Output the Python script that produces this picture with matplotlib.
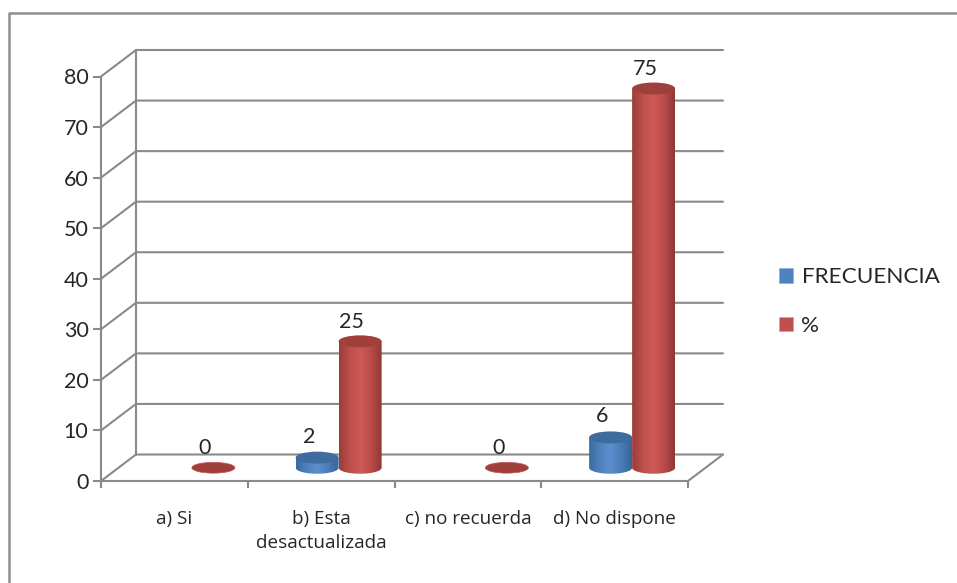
import numpy as np
import matplotlib
matplotlib.use("Agg")
import matplotlib.pyplot as plt
from matplotlib.lines import Line2D
from matplotlib.patches import Ellipse, PathPatch, Patch
from matplotlib.path import Path
from matplotlib.colors import LinearSegmentedColormap

categories = ["a) Si", "b) Esta\ndesactualizada", "c) no recuerda", "d) No dispone"]
frecuencia = [None, 2, None, 6]
porcentaje = [0, 25, 0, 75]
y_ticks = [0, 10, 20, 30, 40, 50, 60, 70, 80]
legend_labels = ["FRECUENCIA", "%"]

W, H = 957, 583
plt.rcParams["font.family"] = ["Lato", "DejaVu Sans"]
TEXT = "#262626"
GRID = "#8a8a8a"

fig = plt.figure(figsize=(W / 100, H / 100), dpi=100)
L, R, T, B = 101, 688, 76.5, 481
ax = fig.add_axes([L / W, 1 - B / H, (R - L) / W, (B - T) / H])
ax.set_xlim(0, 4)
ax.set_ylim(0, 80)
ax.patch.set_visible(False)

px_x = (R - L) / 4
px_y = (B - T) / 80
DX = 35 / px_x
DY = 26.5 / px_y
BW = 43 / px_x
EH = 12 / px_y

# outer frame of the chart area
fig.add_artist(Line2D([9 / W, 9 / W, 1], [0, 1 - 13 / H, 1 - 13 / H], color="#8f8f8f", lw=1.8))

# walls and floor
line = dict(color=GRID, lw=1.5, clip_on=False, zorder=1, solid_capstyle="round")
for v in y_ticks:
    ax.plot([0, DX, 4 + DX], [v, v + DY, v + DY], **line)
ax.plot([DX, DX], [DY, 80 + DY], **line)
ax.plot([4, 4 + DX], [0, DY], **line)

for s in ("top", "right"):
    ax.spines[s].set_visible(False)
for s in ("left", "bottom"):
    ax.spines[s].set_color(GRID)
    ax.spines[s].set_linewidth(1.5)

ax.set_yticks(y_ticks)
ax.set_xticks(range(5))
ax.set_xticklabels([])
ax.tick_params(axis="y", length=6, width=1.5, color=GRID, labelsize=15.5, labelcolor=TEXT, pad=3)
ax.tick_params(axis="x", length=5, width=1.5, color=GRID)

for i, c in enumerate(categories):
    ax.annotate(c, (i + 0.5, 0), xytext=(0, -21), textcoords="offset points",
                ha="center", va="top", fontsize=13.6, color=TEXT, family="Open Sans",
                linespacing=1.42, annotation_clip=False)

blue_cm = LinearSegmentedColormap.from_list("b", ["#3a6ba3", "#4f81bd", "#5b90cf", "#4a7cb6", "#386597"])
red_cm = LinearSegmentedColormap.from_list("r", ["#9a3d3a", "#bc4f4c", "#cf5a57", "#b84c49", "#8f3836"])


def cylinder(cx, v, cmap, top_color, rim):
    base = DY / 2
    if v <= 0:
        ax.add_patch(Ellipse((cx, base), BW, EH * 0.9, fc=top_color, ec=rim, lw=0.5, zorder=4))
        return
    t = np.linspace(0, np.pi, 40)
    xs = cx + BW / 2 * np.cos(t)
    low = base - EH / 2 * np.sin(t)
    verts = np.r_[np.c_[xs[::-1], low[::-1]], np.c_[xs, np.full_like(xs, base + v)], [[xs[-1], low[-1]]]]
    im = ax.imshow(np.linspace(0, 1, 128)[None, :], cmap=cmap, aspect="auto",
                   extent=[cx - BW / 2, cx + BW / 2, base - EH, base + v], zorder=4)
    clip = PathPatch(Path(verts), transform=ax.transData, fc="none", ec="none")
    ax.add_patch(clip)
    im.set_clip_path(clip)
    ax.add_patch(Ellipse((cx, base + v), BW, EH, fc=top_color, ec="none", zorder=5))


for i in range(4):
    c0 = i + 0.5 + DX / 2
    if frecuencia[i] is not None:
        cylinder(c0 - BW / 2, frecuencia[i], blue_cm, "#3f6c9e", "#4f81bd")
        ax.annotate(str(frecuencia[i]), (c0 - BW / 2, DY / 2 + frecuencia[i]), xytext=(-6, 8),
                    textcoords="offset points", ha="center", va="bottom", fontsize=15.5,
                    color=TEXT, zorder=6, annotation_clip=False)
    cylinder(c0 + BW / 2, porcentaje[i], red_cm, "#a0403d", "#c0504d")
    ax.annotate(str(porcentaje[i]), (c0 + BW / 2, DY / 2 + porcentaje[i]), xytext=(-6, 7),
                textcoords="offset points", ha="center", va="bottom", fontsize=15.5,
                color=TEXT, zorder=6, annotation_clip=False)
ax.set_xlim(0, 4)
ax.set_ylim(0, 80)

handles = [Patch(fc="#4f81bd", ec="#8fb0d8", lw=0.5), Patch(fc="#c0504d", ec="#dc9c9a", lw=0.5)]
fig.legend(handles, legend_labels, loc="center left", bbox_to_anchor=(779 / W, 1 - 301.5 / H), frameon=False,
           fontsize=16.2, labelcolor=TEXT, handlelength=0.62, handleheight=0.62, handletextpad=0.38,
           labelspacing=1.27, borderpad=0, borderaxespad=0)

fig.savefig("out.png", dpi=100)
